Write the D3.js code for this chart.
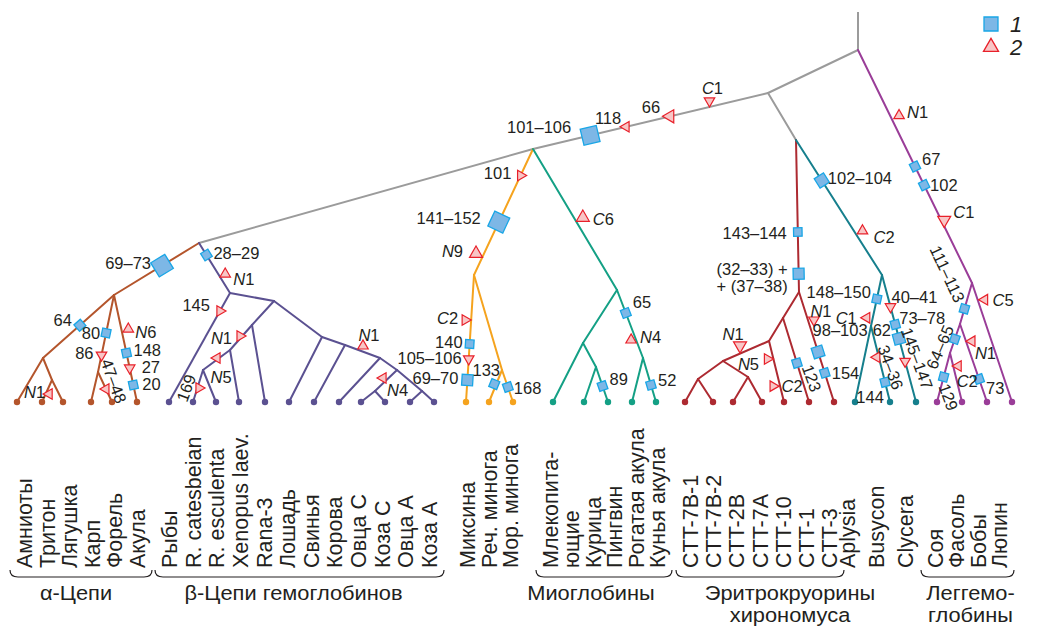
<!DOCTYPE html>
<html>
<head>
<meta charset="utf-8">
<script src="https://cdn.jsdelivr.net/npm/d3@7"></script>
<style>
  body { margin: 0; background: #fff; }
  text { font-family: "Liberation Sans", Arial, sans-serif; fill: #231f20; }
</style>
</head>
<body>
<svg id="chart" width="1037" height="627"></svg>
<script>
// leaves, left to right
const leafNames = ["Амниоты","Тритон","Лягушка","Карп","Форель","Акула",
  "Рыбы","R. catesbeian","R. esculenta","Xenopus laev.","Rana-3","Лошадь","Свинья","Корова","Овца C","Коза C","Овца A","Коза A",
  "Миксина","Реч. минога","Мор. минога",
  "Млекопита-|ющие","Курица","Пингвин","Рогатая акула","Кунья акула",
  "CTT-7B-1","CTT-7B-2","CTT-2B","CTT-7A","CTT-10","CTT-1","CTT-3",
  "Aplysia","Busycon","Clycera",
  "Соя","Фасоль","Бобы","Люпин"];
const leafParent = ["A1","A1b","A1b","A2","A2","A0",
  "B0","Bx3","Bx3","Bx2","Bx1","Bm","Bs","Bk","Bc","Bc","Ba","Ba",
  "O1","O2","O2",
  "Ml","Ml2","Ml2","Mr","Mr",
  "C4","C4","C5","C5","C2","C1","C0",
  "T1","T1","T0",
  "L2","L2","L1","L0"];
const leafPos = [17,42,63,91,112,137, 169,193,216,239,265,289,314,339,361,385,410,434,
  466,489,513, 553,584,608,632,656, 685,713,733,762,784,809,834, 855,890,916, 937,962,987,1012];

// internal nodes: id, parent, horizontal position, height above the leaves, clade
const nodes = [
  ["R", null, 858, 352, "gray"],
  ["G1","R",768,309,"gray"],
  ["G3","G1",796,262,"gray"],
  ["G2","G1",533,253,"gray"],
  ["G4","G2",199,159,"gray"],
  ["A0","G4",114,107,"alpha"],
  ["A1","A0",43,44,"alpha"],
  ["A1b","A1",52,22,"alpha"],
  ["A2","A0",98,30,"alpha"],
  ["B0","G4",230,109,"beta"],
  ["B1","B0",274,101,"beta"],
  ["Bx1","B1",252,77,"beta"],
  ["Bx2","Bx1",230,52,"beta"],
  ["Bx3","Bx2",203,32,"beta"],
  ["Bm","B1",322,65,"beta"],
  ["Bs","Bm",345,57,"beta"],
  ["Bk","Bs",380,44,"beta"],
  ["Bo","Bk",397,32,"beta"],
  ["Bc","Bo",375,11,"beta"],
  ["Ba","Bo",422,11,"beta"],
  ["O1","G2",474,127,"agn"],
  ["O2","O1",502,32,"agn"],
  ["M1","G2",617,112,"myo"],
  ["Ml","M1",583,59,"myo"],
  ["Ml2","Ml",596,35,"myo"],
  ["Mr","M1",643,44,"myo"],
  ["C0","G3",799,110,"chir"],
  ["C1","C0",783,84,"chir"],
  ["C2","C1",769,61,"chir"],
  ["C3","C2",723,41,"chir"],
  ["C4","C3",698,23,"chir"],
  ["C5","C3",748,25,"chir"],
  ["T0","G3",882,127,"moll"],
  ["T1","T0",871,76,"moll"],
  ["L0","R",972,119,"leg"],
  ["L1","L0",960,78,"leg"],
  ["L2","L1",950,49,"leg"]
];
const rootTop = 390;

// substitutions on branches: branch (child), fraction along it, kind, direction, nudge, label, label offset, anchor, rotation
const markers = [
  ["G2",0.757,"b",null,[0,0],"101–106",-51,-8,"middle",0],
  ["G2",0.604,"t","left",[0,0],"118",-18,-9,"middle",0],
  ["G2",0.417,"T","left",[0,0],"66",-19,-9,"middle",0],
  ["G2",0.249,"t","down",[0,-6],"C1",3,-13,"middle",0],
  ["L0",0.29,"t","up",[8,-2],"N1",8,-4,"start",0],
  ["L0",0.50,"s",null,[0,0],"67",7,-8,"start",0],
  ["L0",0.58,"s",null,[0,0],"102",6,0,"start",0],
  ["L0",0.73,"T","down",[3,0],"C1",9,-8,"start",0],
  ["L1",0.63,"s",null,[0,0],"111–113",-17,-35,"middle",65],
  ["Люпин",0.14,"t","left",[7,0],"C5",8,0,"start",0],
  ["L2",0.52,"s",null,[0,0],"64–65",-15,8,"middle",-67],
  ["Бобы",0.22,"t","left",[6,0],"N1",3,12,"start",0],
  ["Бобы",0.705,"s",null,[0,0],"73",7,9,"start",0],
  ["Соя",0.49,"s",null,[0,0],"129",5,20,"middle",70],
  ["Фасоль",0.265,"t","left",[5,0],"C2",9,15,"middle",0],
  ["T0",0.30,"m",null,[0,0],"102–104",6,-3,"start",0],
  ["T0",0.68,"t","up",[8,-1],"C2",11,6,"start",0],
  ["T1",0.47,"s",null,[0,0],"148–150",-6,-7,"end",0],
  ["T1",0.84,"t","left",[-6,0],"C1",-10,0,"end",0],
  ["Busycon",0.41,"t","left",[-2,0],"34–36",14,10,"middle",70],
  ["Busycon",0.74,"s",null,[0,0],"144",-15,15,"middle",0],
  ["Clycera",0.25,"t","down",[0,0],"40–41",1,-10,"start",0],
  ["Clycera",0.39,"s",null,[0,0],"73–78",4,-7,"start",0],
  ["Clycera",0.50,"m",null,[0,0],"62",-8,-9,"end",0],
  ["Clycera",0.68,"t","down",[0,0],"145–147",12,-3,"middle",70],
  ["C0",0.605,"s",null,[0,0],"143–144",-11,1,"end",0],
  ["C0",0.88,"m",null,[0,0],"(32–33) +|+ (37–38)",-11,-5,"end",0],
  ["CTT-3",0.255,"t","down",[6,0],"N1",7,-9,"middle",0],
  ["CTT-3",0.545,"m",null,[0,0],"98–103",22,-22,"middle",0],
  ["CTT-3",0.736,"s",null,[0,0],"154",7,0,"start",0],
  ["CTT-1",0.536,"s",null,[0,0],"123",15,15,"middle",70],
  ["CTT-10",0.295,"t","right",[-6,0],"N5",-19,5,"middle",0],
  ["CTT-10",0.74,"t","right",[-7,0],"C2",19,0,"middle",0],
  ["C3",0.63,"T","down",[0,-8],"N1",-7,-12,"middle",0],
  ["O1",0.21,"t","right",[0,0],"101",-23,-2,"middle",0],
  ["O1",0.58,"b",null,[0,0],"141–152",-18,-4,"end",0],
  ["O1",0.83,"T","up",[-8,0],"N9",-13,-3,"end",0],
  ["Миксина",0.354,"t","right",[-6,0],"C2",-7,-2,"end",0],
  ["Миксина",0.543,"s",null,[0,0],"140",-7,-2,"end",0],
  ["Миксина",0.661,"t","down",[0,0],"105–106",-7,-1,"end",0],
  ["Миксина",0.827,"m",null,[0,0],"69–70",-9,-2,"end",0],
  ["Реч. минога",0.44,"s",null,[-2,0],"133",-8,-14,"middle",0],
  ["Мор. минога",0.53,"s",null,[0,0],"168",6,1,"start",0],
  ["M1",0.486,"T","up",[9,0],"C6",10,1,"start",0],
  ["Mr",0.338,"s",null,[0,0],"65",7,-11,"start",0],
  ["Mr",0.735,"t","up",[-5,0],"N4",9,-3,"start",0],
  ["Кунья акула",0.614,"s",null,[0,0],"52",7,-5,"start",0],
  ["Пингвин",0.543,"s",null,[0,0],"89",7,-7,"start",0],
  ["A0",0.435,"b",null,[0,0],"69–73",-11,-3,"end",0],
  ["A1",0.48,"s",null,[0,0],"64",-8,-5,"end",0],
  ["A2",0.494,"s",null,[0,0],"80",-6,0,"end",0],
  ["A2",0.78,"t","down",[0,0],"86",-8,-2,"end",0],
  ["Форель",0.567,"t","left",[0,0],"47–48",8,-8,"middle",70],
  ["Акула",0.318,"t","up",[7,0],"N6",7,3,"start",0],
  ["Акула",0.542,"s",null,[0,0],"148",7,-3,"start",0],
  ["Акула",0.682,"t","down",[0,0],"27",12,-1,"start",0],
  ["Акула",0.841,"s",null,[0,0],"20",9,-1,"start",0],
  ["Тритон",0.636,"t","left",[3.5,0],"N1",-4,-2,"end",0],
  ["B0",0.24,"s",null,[0,0],"28–29",7,-2,"start",0],
  ["B0",0.62,"t","up",[7,0],"N1",8,5,"start",0],
  ["Рыбы",0.165,"t","right",[0,0],"145",-10,-6,"end",0],
  ["Bx2",0.545,"t","right",[0,-2.6],"N1",-8,2,"end",0],
  ["Bx3",0.48,"t","left",[0,-1.6],"N5",4,19,"middle",0],
  ["R. catesbeian",0.5625,"t","right",[1.6,0],"169",-13,0,"middle",-70],
  ["Bk",0.514,"t","up",[0,-5.7],"N1",6,-11,"middle",0],
  ["Bc",0.38,"t","left",[-5.6,0],"N4",4,12,"start",0]
];

// leaf groups along the bottom
const groups = [
  {from:0, to:5, pad:[15,8], brace:true, title:["α-Цепи"], tdx:-5},
  {from:6, to:17, pad:[8,3], brace:true, title:["β-Цепи гемоглобинов"], tdx:-6},
  {from:18, to:20, pad:[9,5], brace:false, title:[]},
  {from:21, to:25, pad:[5,9], brace:true, title:["Миоглобины"], tdx:-13},
  {from:26, to:32, pad:[13,3], brace:true, title:["Эритрокруорины","хирономуса"], tdx:30},
  {from:33, to:35, pad:[0,-3], brace:false, title:[]},
  {from:36, to:39, pad:[6,-5], brace:true, title:["Леггемо-","глобины"], tdx:3}
];

const cladeColor = {
  gray: "#9b9b9b", alpha: "#b4552c", beta: "#5b5191", agn: "#f5a31e",
  myo: "#14a085", chir: "#ad2a31", moll: "#167f8d", leg: "#9a3d98"
};
const sqFill = "#7db7e6", sqStroke = "#19a6e6";
const triFill = "#f8c6c6", triStroke = "#e8202a";

const W = 1037, H = 627;
const svg = d3.select("#chart");
const x = d3.scaleLinear().domain([0, W]).range([0, W]);
const y = d3.scaleLinear().domain([0, 390]).range([402, 12]);

// build node map
const nodeMap = {};
for (const [id, parent, pos, h, clade] of nodes) {
  nodeMap[id] = { id, parent, px: x(pos), py: y(h), clade, leaf: false };
}
leafNames.forEach((name, i) => {
  const par = nodeMap[leafParent[i]];
  nodeMap[name] = { id: name, parent: leafParent[i], px: x(leafPos[i]), py: y(0), clade: par.clade, leaf: true };
});
const all = Object.values(nodeMap);

// branches
const gEdges = svg.append("g");
gEdges.append("line")
  .attr("x1", nodeMap.R.px).attr("x2", nodeMap.R.px)
  .attr("y1", nodeMap.R.py).attr("y2", y(rootTop))
  .attr("stroke", cladeColor.gray).attr("stroke-width", 2);
gEdges.selectAll("line.edge")
  .data(all.filter(d => d.parent))
  .join("line")
  .attr("class", "edge")
  .attr("x1", d => nodeMap[d.parent].px).attr("y1", d => nodeMap[d.parent].py)
  .attr("x2", d => d.px).attr("y2", d => d.py)
  .attr("stroke", d => cladeColor[d.clade])
  .attr("stroke-width", 2)
  .attr("stroke-linecap", "round");

// leaf dots
svg.append("g").selectAll("circle")
  .data(all.filter(d => d.leaf))
  .join("circle")
  .attr("cx", d => d.px).attr("cy", d => d.py).attr("r", 3.2)
  .attr("fill", d => cladeColor[d.clade]);

// markers
const sqSide = { s: 8.5, m: 11, b: 16.5 };
const triSide = { t: 10.5, T: 13 };
const dirAngle = { up: 0, right: 90, down: 180, left: 270 };

function addLabel(g, txt, lx, ly, anchor, rot, size) {
  const lines = txt.split("|");
  lines.forEach((line, i) => {
    const t = g.append("text")
      .attr("transform", `translate(${lx},${ly + i * 17}) rotate(${rot})`)
      .attr("text-anchor", anchor)
      .attr("dominant-baseline", "central")
      .attr("font-size", size);
    const m = line.match(/^([NC])(\d+)$/);
    if (m) {
      t.append("tspan").attr("font-style", "italic").text(m[1]);
      t.append("tspan").text(m[2]);
    } else {
      t.text(line);
    }
  });
}

const gMark = svg.append("g");
const gLab = svg.append("g");
for (const [child, t, kind, dir, nudge, label, ldx, ldy, anchor, rot] of markers) {
  const c = nodeMap[child], p = nodeMap[c.parent];
  const mx = p.px + t * (c.px - p.px) + nudge[0];
  const my = p.py + t * (c.py - p.py) + nudge[1];
  const ang = Math.atan2(c.py - p.py, c.px - p.px) * 180 / Math.PI;
  if (sqSide[kind]) {
    const s = sqSide[kind];
    gMark.append("path")
      .attr("d", d3.symbol().type(d3.symbolSquare).size(s * s)())
      .attr("transform", `translate(${mx},${my}) rotate(${ang})`)
      .attr("fill", sqFill).attr("stroke", sqStroke).attr("stroke-width", 1.3);
  } else {
    const s = triSide[kind];
    gMark.append("path")
      .attr("d", d3.symbol().type(d3.symbolTriangle).size(Math.sqrt(3) / 4 * s * s)())
      .attr("transform", `translate(${mx},${my}) rotate(${dirAngle[dir]})`)
      .attr("fill", triFill).attr("stroke", triStroke).attr("stroke-width", 1.2);
  }
  addLabel(gLab, label, mx + ldx, my + ldy, anchor, rot, 16.5);
}

// leaf labels, braces and group titles
const labelBase = 568;
const gBottom = svg.append("g");
for (const gr of groups) {
  const cols = [];
  for (let i = gr.from; i <= gr.to; i++) leafNames[i].split("|").forEach(s => cols.push(s));
  const cx = d3.scaleLinear().domain([0, cols.length - 1])
    .range([x(leafPos[gr.from]) + gr.pad[0], x(leafPos[gr.to]) + gr.pad[1]]);
  cols.forEach((s, k) => {
    gBottom.append("text")
      .attr("transform", `translate(${cx(k)},${labelBase}) rotate(-90)`)
      .attr("text-anchor", "start")
      .attr("font-size", 21.5)
      .text(s);
  });
  if (gr.brace) {
    const x0 = cx(0) - 22, x1 = cx(cols.length - 1) + 7;
    const by = 577;
    gBottom.append("path")
      .attr("d", `M${x0},${by - 7} Q${x0},${by} ${x0 + 8},${by} L${x1 - 8},${by} Q${x1},${by} ${x1},${by - 7}`)
      .attr("fill", "none").attr("stroke", "#231f20").attr("stroke-width", 1.2);
    gr.title.forEach((tl, i) => {
      gBottom.append("text")
        .attr("transform", `translate(${(x0 + x1) / 2 + gr.tdx},${600 + i * 22}) scale(1.12,1)`)
        .attr("text-anchor", "middle").attr("font-size", 19.5)
        .text(tl);
    });
  }
}

// legend
const leg = svg.append("g").attr("transform", "translate(991,24)");
leg.append("path").attr("d", d3.symbol().type(d3.symbolSquare).size(14 * 14)())
  .attr("fill", sqFill).attr("stroke", sqStroke).attr("stroke-width", 1.3);
leg.append("path").attr("transform", "translate(0,23)")
  .attr("d", d3.symbol().type(d3.symbolTriangle).size(Math.sqrt(3) / 4 * 15 * 15)())
  .attr("fill", triFill).attr("stroke", triStroke).attr("stroke-width", 1.3);
leg.append("text").attr("x", 19).attr("y", 0).attr("dominant-baseline", "central")
  .attr("font-size", 22).attr("font-style", "italic").text("1");
leg.append("text").attr("x", 19).attr("y", 23).attr("dominant-baseline", "central")
  .attr("font-size", 22).attr("font-style", "italic").text("2");
</script>
</body>
</html>
